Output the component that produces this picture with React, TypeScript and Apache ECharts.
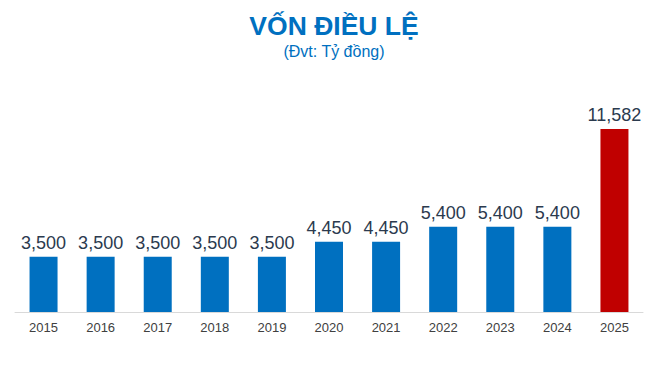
import React, { useEffect, useRef } from "react";
import * as echarts from "echarts";

const years = ["2015", "2016", "2017", "2018", "2019", "2020", "2021", "2022", "2023", "2024", "2025"];
const capital = [3500, 3500, 3500, 3500, 3500, 4450, 4450, 5400, 5400, 5400, 11582];
const highlightYear = "2025";

const BLUE = "#0070C0";
const RED = "#C00000";

export default function App() {
  const ref = useRef<HTMLDivElement>(null);
  useEffect(() => {
    if (!ref.current) return;
    const chart = echarts.init(ref.current, undefined, { renderer: "svg" });
    chart.setOption({
      animation: false,
      backgroundColor: "#ffffff",
      textStyle: { fontFamily: "Liberation Sans, Arial, sans-serif" },
      title: {
        text: "VỐN ĐIỀU LỆ",
        subtext: "(Đvt: Tỷ đồng)",
        left: 329,
        textAlign: "center",
        top: 7,
        itemGap: 4,
        textStyle: { fontSize: 26.5, fontWeight: "bold", color: BLUE, fontFamily: "Liberation Sans, Arial, sans-serif" },
        subtextStyle: { fontSize: 16, color: BLUE, fontFamily: "Liberation Sans, Arial, sans-serif" },
      },
      grid: { left: 15, right: 21, top: 75, bottom: 53, containLabel: false },
      xAxis: {
        type: "category",
        data: years,
        axisLine: { show: true, lineStyle: { color: "#D9D9D9", width: 1 } },
        axisTick: { show: false },
        axisLabel: { color: "#404040", fontSize: 13, margin: 9 },
      },
      yAxis: {
        type: "value",
        min: 0,
        max: 15000,
        show: false,
        splitLine: { show: false },
      },
      series: [
        {
          type: "bar",
          barWidth: 28,
          data: capital.map((v, i) => ({
            value: v,
            itemStyle: { color: years[i] === highlightYear ? RED : BLUE },
          })),
          label: {
            show: true,
            position: "top",
            distance: 5,
            fontSize: 18,
            color: "#2B3A4E",
            formatter: (p: any) => Number(p.value).toLocaleString("en-US"),
          },
        },
      ],
    });
    return () => chart.dispose();
  }, []);
  return <div ref={ref} style={{ width: 664, height: 365, position: "absolute", left: 0, top: 0 }} />;
}
